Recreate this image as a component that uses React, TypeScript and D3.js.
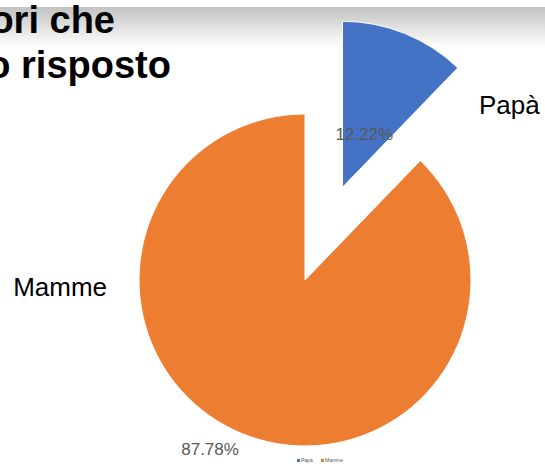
import React from "react";
import * as d3 from "d3";

const categories = ["Papà", "Mamme"];
const values = [12.22, 87.78];
const percentLabels = ["12.22%", "87.78%"];
const titleLines = ["ori che", "o risposto"];
const colors = ["#4472C4", "#ED7D31"];

const W = 545;
const H = 464;
const cx = 305;
const cy = 280;
const R = 166;
const explode = [100, 0];
// label placement: [angle in degrees from 12 o'clock, distance from pie centre]
const nameLabelPos = [
  [49.4, 269],
  [268.4, 245],
];
const pctLabelPos = [
  [22.2, 157],
  [209.3, 194],
];

export default function App() {
  const pie = d3.pie<number>().sort(null).value((d) => d)(values);
  const arc = d3.arc<d3.PieArcDatum<number>>().innerRadius(0).outerRadius(R);
  const polar = (deg: number, r: number) => {
    const a = (deg * Math.PI) / 180;
    return [cx + r * Math.sin(a), cy - r * Math.cos(a)];
  };

  return (
    <svg
      width={W}
      height={H}
      style={{ position: "fixed", left: 0, top: 0, background: "#fff" }}
      fontFamily="'Liberation Sans', Arial, sans-serif"
    >
      <defs>
        <linearGradient id="band" x1="0" y1="0" x2="0" y2="1">
          <stop offset="0" stopColor="#c2c2c2" />
          <stop offset="1" stopColor="#ffffff" />
        </linearGradient>
      </defs>
      <rect x={0} y={0} width={W} height={H} fill="#fff" />
      <rect x={0} y={7} width={W} height={40} fill="url(#band)" />
      {titleLines.map((t, i) => (
        <text
          key={t}
          x={115 + i * 56}
          y={33 + i * 45}
          textAnchor="end"
          fontWeight="bold"
          fontSize={38}
          fill="#000"
        >
          {t}
        </text>
      ))}
      {pie.map((p, i) => {
        const mid = (p.startAngle + p.endAngle) / 2;
        const dx = explode[i] * Math.sin(mid);
        const dy = -explode[i] * Math.cos(mid);
        return (
          <path
            key={categories[i]}
            d={arc(p) || ""}
            transform={`translate(${cx + dx},${cy + dy})`}
            fill={colors[i]}
            stroke="#fff"
            strokeWidth={1}
          />
        );
      })}
      {categories.map((c, i) => {
        const [x, y] = polar(nameLabelPos[i][0], nameLabelPos[i][1]);
        return (
          <text
            key={"n" + c}
            x={x}
            y={y}
            textAnchor="middle"
            dominantBaseline="central"
            fontSize={26}
            fill="#000"
          >
            {c}
          </text>
        );
      })}
      {percentLabels.map((t, i) => {
        const [x, y] = polar(pctLabelPos[i][0], pctLabelPos[i][1]);
        return (
          <text
            key={"p" + t}
            x={x}
            y={y}
            textAnchor="middle"
            dominantBaseline="central"
            fontSize={17}
            fill="#595959"
          >
            {t}
          </text>
        );
      })}
      <g transform="translate(297,461)">
        {categories.map((c, i) => (
          <g key={"l" + c} transform={`translate(${i * 24},0)`}>
            <rect x={0} y={-2} width={3} height={3} fill={colors[i]} />
            <text x={4} y={1} fontSize={5} fill="#595959">
              {c}
            </text>
          </g>
        ))}
      </g>
    </svg>
  );
}
